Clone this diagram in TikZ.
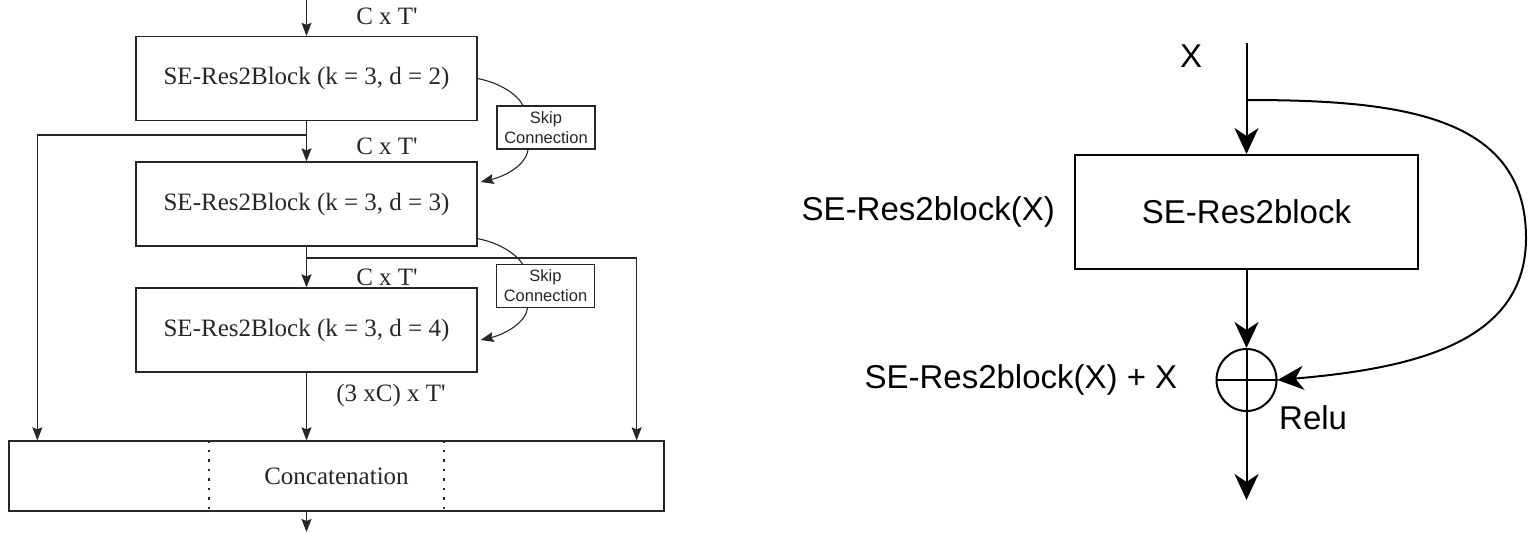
\documentclass[tikz,border=0pt]{standalone}
\usepackage{fontspec}
\setmainfont{Liberation Serif}
\newfontfamily\arialfont{Liberation Sans}
\usetikzlibrary{shapes.geometric, arrows.meta, positioning, calc}

\begin{document}
\begin{tikzpicture}[
    x=1pt, y=-1pt,
    block/.style={draw=black!85, line width=1.3pt, minimum width=341pt, minimum height=84pt,
                  inner sep=0pt, text=black!85, font=\fontsize{25}{30}\selectfont},
    dims/.style={inner sep=0pt, text=black!85, font=\fontsize{25}{30}\selectfont},
    skipbox/.style={draw=black!85, line width=1.1pt, minimum width=98pt, minimum height=43pt,
                    inner sep=0pt, align=center, text=black!85,
                    font=\arialfont\fontsize{16.5}{20}\selectfont},
    arr/.style={-{Stealth[length=13pt,width=10pt,inset=2pt]}, line width=1.2pt, black!85},
    skiparc/.style={line width=1.1pt, black!85},
    rblock/.style={draw, line width=2pt, minimum width=343pt, minimum height=114pt,
                   inner sep=0pt, font=\arialfont\fontsize{33}{40}\selectfont},
    rtext/.style={inner sep=0pt, font=\arialfont\fontsize{33}{40}\selectfont},
    rarr/.style={-{Stealth[length=26pt,width=24pt,inset=8pt]}, line width=2pt},
  ]
    \useasboundingbox (0,0) rectangle (1528,533);

    % left: stacked blocks
    \node[block] (b1) at (306.5,78.5) {SE-Res2Block (k = 3, d = 2)};
    \node[block] (b2) at (306.5,204)  {SE-Res2Block (k = 3, d = 3)};
    \node[block] (b3) at (306.5,330)  {SE-Res2Block (k = 3, d = 4)};
    \node[block, minimum width=655pt, minimum height=70pt] (cat) at (336.5,476) {Concatenation};
    \node[skipbox] (s1) at (546,127.5) {Skip\\Connection};
    \node[skipbox] (s2) at (545.5,286) {Skip\\Connection};
    \node[dims] (d1) at (387,16)  {C x T\textquotesingle};
    \node[dims] (d2) at (387,146) {C x T\textquotesingle};
    \node[dims] (d3) at (387,277) {C x T\textquotesingle};
    \node[dims] (d4) at (391,395) {(3 xC) x T\textquotesingle};

    \coordinate (top) at (306.5,0);
    \coordinate (bot) at (306.5,532);
    \coordinate (j1) at (306.5,135);
    \coordinate (j2) at (306.5,258);
    \coordinate (catl) at ($(cat.north west)+(29,0)$);
    \coordinate (catr) at ($(cat.north east)+(-28,0)$);

    \draw[arr] (top) -- (b1);
    \draw[arr] (b1) -- (b2);
    \draw[arr] (b2) -- (b3);
    \draw[arr] (b3.south) -- (b3.south |- cat.north);
    \draw[arr] (bot |- cat.south) -- (bot);
    \draw[arr] (j1) -| (catl);
    \draw[arr] (j2) -| (catr);

    \draw[black!85, line width=2.2pt, dash pattern=on 2.5pt off 7pt]
      ($(cat.north west)+(201,0)$) -- ($(cat.south west)+(201,0)$)
      ($(cat.north west)+(436,0)$) -- ($(cat.south west)+(436,0)$);

    % skip connections
    \draw[skiparc] (b1.east) .. controls (500,83) and (517,94) .. ($(s1.north)+(-23,0)$);
    \draw[arr, line width=1.1pt] ($(s1.south)+(-18,0)$) .. controls (526,165) and (506,176) .. ($(b2.east)+(3,-22)$);
    \draw[skiparc] ($(b2.south east)+(0,-8)$) .. controls (500,243) and (516,254) .. ($(s2.north)+(-23,0)$);
    \draw[arr, line width=1.1pt] ($(s2.south)+(-18,0)$) .. controls (526,322) and (506,334) .. ($(b3.east)+(3,10)$);

    % right: residual block
    \node[rblock] (se) at (1246.5,212) {SE-Res2block};
    \node[draw, ellipse, line width=2pt, minimum width=60pt, minimum height=62pt, inner sep=0pt] (sum) at (1246.5,380) {};
    \draw[line width=2pt] (sum.north) -- (sum.south) (sum.west) -- (sum.east);
    \node[rtext] (xl) at (1191,56) {X};
    \node[rtext, left=19pt of se] (lse) {SE-Res2block(X)};
    \node[rtext, left=38pt of sum] (lsum) {SE-Res2block(X) + X};
    \node[rtext, anchor=west] (relu) at (1279,418) {Relu};

    \coordinate (xin) at (1246.5,43);
    \coordinate (jr) at (1246.5,100);
    \coordinate (yout) at (1246.5,500);

    \draw[rarr] (xin) -- (se);
    \draw[rarr] (se) -- (sum);
    \draw[rarr] (sum) -- (yout);
    \draw[rarr] (jr) .. controls (1400,100) and (1526,115) .. (1526,238)
                     .. controls (1526,340) and (1420,368) .. (sum.east);
  \end{tikzpicture}
\end{document}
